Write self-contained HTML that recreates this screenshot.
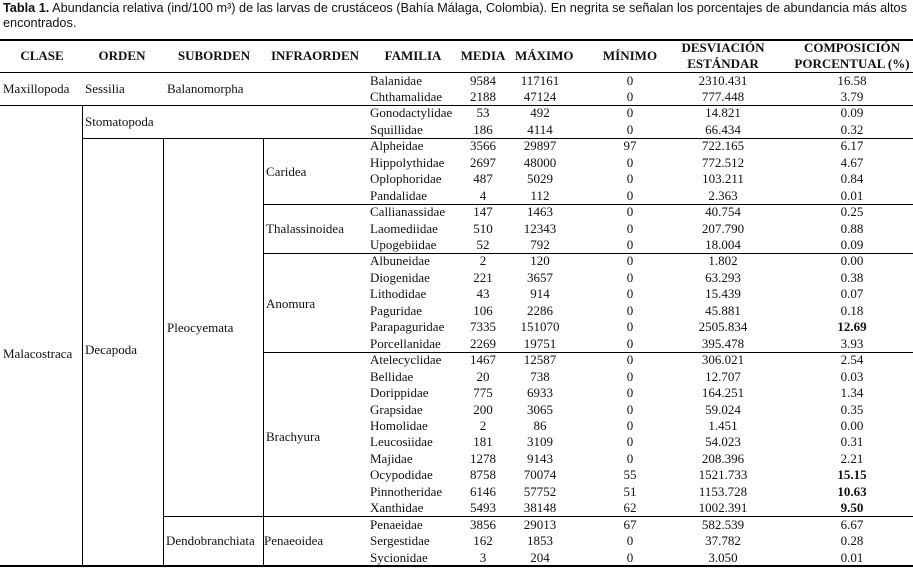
<!DOCTYPE html>
<html><head><meta charset="utf-8"><style>
body{margin:0;width:913px;height:570px;background:#fff;position:relative;overflow:hidden;font-family:"Liberation Serif",serif;font-size:13px;color:#111}
.a{position:absolute;white-space:nowrap;line-height:16px}
.cap{position:absolute;left:3px;font-family:"Liberation Sans",sans-serif;font-size:12.7px;line-height:15px;white-space:nowrap}
.h{position:absolute;height:1px;background:#000}
.v{position:absolute;width:1px;background:#000}
.r{position:absolute;left:0;width:913px;height:16.45px;line-height:16.45px}
.r span{position:absolute;top:0;text-align:center}
.r .f{left:370px;text-align:left}
.r .m1{left:453px;width:60px}
.r .m2{left:510px;width:60px}
.r .m3{left:600px;width:60px}
.r .m4{left:675px;width:96px}
.r .m5{left:800px;width:104px}
.hd{position:absolute;font-weight:bold;text-align:center;line-height:16px;font-size:13px}
</style></head><body>
<div class="cap" style="top:1px"><b>Tabla 1.</b> Abundancia relativa (ind/100 m³) de las larvas de crustáceos (Bahía Málaga, Colombia). En negrita se señalan los porcentajes de abundancia más altos</div>
<div class="cap" style="top:16px">encontrados.</div>

<div class="h" style="left:0;width:913px;top:39px;height:2px"></div>
<div class="h" style="left:0;width:913px;top:72px"></div>
<div class="h" style="left:0;width:913px;top:105px"></div>
<div class="h" style="left:82px;width:831px;top:138px"></div>
<div class="h" style="left:263px;width:650px;top:204px"></div>
<div class="h" style="left:263px;width:650px;top:253px"></div>
<div class="h" style="left:263px;width:650px;top:352px"></div>
<div class="h" style="left:163px;width:750px;top:516px"></div>
<div class="h" style="left:0;width:913px;top:565px;height:2px"></div>
<div class="v" style="left:82px;top:105px;height:461px"></div>
<div class="v" style="left:163px;top:138px;height:428px"></div>
<div class="v" style="left:263px;top:138px;height:428px"></div>

<div class="hd" style="left:0;width:84px;top:48px">CLASE</div>
<div class="hd" style="left:82px;width:80px;top:48px">ORDEN</div>
<div class="hd" style="left:165px;width:98px;top:48px">SUBORDEN</div>
<div class="hd" style="left:263px;width:104px;top:48px">INFRAORDEN</div>
<div class="hd" style="left:367px;width:92px;top:48px">FAMILIA</div>
<div class="hd" style="left:458px;width:50px;top:48px">MEDIA</div>
<div class="hd" style="left:515px;width:55px;top:48px">MÁXIMO</div>
<div class="hd" style="left:595px;width:70px;top:48px">MÍNIMO</div>
<div class="hd" style="left:665px;width:116px;top:40px">DESVIACIÓN<br>ESTÁNDAR</div>
<div class="hd" style="left:782px;width:140px;top:40px">COMPOSICIÓN<br>PORCENTUAL (%)</div>

<div class="a" style="left:3px;top:81px">Maxillopoda</div>
<div class="a" style="left:85px;top:81px">Sessilia</div>
<div class="a" style="left:167px;top:81px">Balanomorpha</div>
<div class="a" style="left:85px;top:114px">Stomatopoda</div>
<div class="a" style="left:266px;top:164px">Caridea</div>
<div class="a" style="left:266px;top:221px">Thalassinoidea</div>
<div class="a" style="left:266px;top:296px">Anomura</div>
<div class="a" style="left:167px;top:320px">Pleocyemata</div>
<div class="a" style="left:3px;top:346px">Malacostraca</div>
<div class="a" style="left:85px;top:342px">Decapoda</div>
<div class="a" style="left:266px;top:429px">Brachyura</div>
<div class="a" style="left:166px;top:533px">Dendobranchiata</div>
<div class="a" style="left:264px;top:533px">Penaeoidea</div>

<div class="r" style="top:72.5px"><span class="f">Balanidae</span><span class="m1">9584</span><span class="m2">117161</span><span class="m3">0</span><span class="m4">2310.431</span><span class="m5">16.58</span></div>
<div class="r" style="top:88.9px"><span class="f">Chthamalidae</span><span class="m1">2188</span><span class="m2">47124</span><span class="m3">0</span><span class="m4">777.448</span><span class="m5">3.79</span></div>
<div class="r" style="top:105.4px"><span class="f">Gonodactylidae</span><span class="m1">53</span><span class="m2">492</span><span class="m3">0</span><span class="m4">14.821</span><span class="m5">0.09</span></div>
<div class="r" style="top:121.8px"><span class="f">Squillidae</span><span class="m1">186</span><span class="m2">4114</span><span class="m3">0</span><span class="m4">66.434</span><span class="m5">0.32</span></div>
<div class="r" style="top:138.3px"><span class="f">Alpheidae</span><span class="m1">3566</span><span class="m2">29897</span><span class="m3">97</span><span class="m4">722.165</span><span class="m5">6.17</span></div>
<div class="r" style="top:154.7px"><span class="f">Hippolythidae</span><span class="m1">2697</span><span class="m2">48000</span><span class="m3">0</span><span class="m4">772.512</span><span class="m5">4.67</span></div>
<div class="r" style="top:171.2px"><span class="f">Oplophoridae</span><span class="m1">487</span><span class="m2">5029</span><span class="m3">0</span><span class="m4">103.211</span><span class="m5">0.84</span></div>
<div class="r" style="top:187.6px"><span class="f">Pandalidae</span><span class="m1">4</span><span class="m2">112</span><span class="m3">0</span><span class="m4">2.363</span><span class="m5">0.01</span></div>
<div class="r" style="top:204.1px"><span class="f">Callianassidae</span><span class="m1">147</span><span class="m2">1463</span><span class="m3">0</span><span class="m4">40.754</span><span class="m5">0.25</span></div>
<div class="r" style="top:220.5px"><span class="f">Laomediidae</span><span class="m1">510</span><span class="m2">12343</span><span class="m3">0</span><span class="m4">207.790</span><span class="m5">0.88</span></div>
<div class="r" style="top:237.0px"><span class="f">Upogebiidae</span><span class="m1">52</span><span class="m2">792</span><span class="m3">0</span><span class="m4">18.004</span><span class="m5">0.09</span></div>
<div class="r" style="top:253.4px"><span class="f">Albuneidae</span><span class="m1">2</span><span class="m2">120</span><span class="m3">0</span><span class="m4">1.802</span><span class="m5">0.00</span></div>
<div class="r" style="top:269.9px"><span class="f">Diogenidae</span><span class="m1">221</span><span class="m2">3657</span><span class="m3">0</span><span class="m4">63.293</span><span class="m5">0.38</span></div>
<div class="r" style="top:286.3px"><span class="f">Lithodidae</span><span class="m1">43</span><span class="m2">914</span><span class="m3">0</span><span class="m4">15.439</span><span class="m5">0.07</span></div>
<div class="r" style="top:302.8px"><span class="f">Paguridae</span><span class="m1">106</span><span class="m2">2286</span><span class="m3">0</span><span class="m4">45.881</span><span class="m5">0.18</span></div>
<div class="r" style="top:319.2px"><span class="f">Parapaguridae</span><span class="m1">7335</span><span class="m2">151070</span><span class="m3">0</span><span class="m4">2505.834</span><span class="m5"><b>12.69</b></span></div>
<div class="r" style="top:335.7px"><span class="f">Porcellanidae</span><span class="m1">2269</span><span class="m2">19751</span><span class="m3">0</span><span class="m4">395.478</span><span class="m5">3.93</span></div>
<div class="r" style="top:352.1px"><span class="f">Atelecyclidae</span><span class="m1">1467</span><span class="m2">12587</span><span class="m3">0</span><span class="m4">306.021</span><span class="m5">2.54</span></div>
<div class="r" style="top:368.6px"><span class="f">Bellidae</span><span class="m1">20</span><span class="m2">738</span><span class="m3">0</span><span class="m4">12.707</span><span class="m5">0.03</span></div>
<div class="r" style="top:385.0px"><span class="f">Dorippidae</span><span class="m1">775</span><span class="m2">6933</span><span class="m3">0</span><span class="m4">164.251</span><span class="m5">1.34</span></div>
<div class="r" style="top:401.5px"><span class="f">Grapsidae</span><span class="m1">200</span><span class="m2">3065</span><span class="m3">0</span><span class="m4">59.024</span><span class="m5">0.35</span></div>
<div class="r" style="top:417.9px"><span class="f">Homolidae</span><span class="m1">2</span><span class="m2">86</span><span class="m3">0</span><span class="m4">1.451</span><span class="m5">0.00</span></div>
<div class="r" style="top:434.4px"><span class="f">Leucosiidae</span><span class="m1">181</span><span class="m2">3109</span><span class="m3">0</span><span class="m4">54.023</span><span class="m5">0.31</span></div>
<div class="r" style="top:450.8px"><span class="f">Majidae</span><span class="m1">1278</span><span class="m2">9143</span><span class="m3">0</span><span class="m4">208.396</span><span class="m5">2.21</span></div>
<div class="r" style="top:467.3px"><span class="f">Ocypodidae</span><span class="m1">8758</span><span class="m2">70074</span><span class="m3">55</span><span class="m4">1521.733</span><span class="m5"><b>15.15</b></span></div>
<div class="r" style="top:483.7px"><span class="f">Pinnotheridae</span><span class="m1">6146</span><span class="m2">57752</span><span class="m3">51</span><span class="m4">1153.728</span><span class="m5"><b>10.63</b></span></div>
<div class="r" style="top:500.2px"><span class="f">Xanthidae</span><span class="m1">5493</span><span class="m2">38148</span><span class="m3">62</span><span class="m4">1002.391</span><span class="m5"><b>9.50</b></span></div>
<div class="r" style="top:516.6px"><span class="f">Penaeidae</span><span class="m1">3856</span><span class="m2">29013</span><span class="m3">67</span><span class="m4">582.539</span><span class="m5">6.67</span></div>
<div class="r" style="top:533.1px"><span class="f">Sergestidae</span><span class="m1">162</span><span class="m2">1853</span><span class="m3">0</span><span class="m4">37.782</span><span class="m5">0.28</span></div>
<div class="r" style="top:549.5px"><span class="f">Sycionidae</span><span class="m1">3</span><span class="m2">204</span><span class="m3">0</span><span class="m4">3.050</span><span class="m5">0.01</span></div>
</body></html>
